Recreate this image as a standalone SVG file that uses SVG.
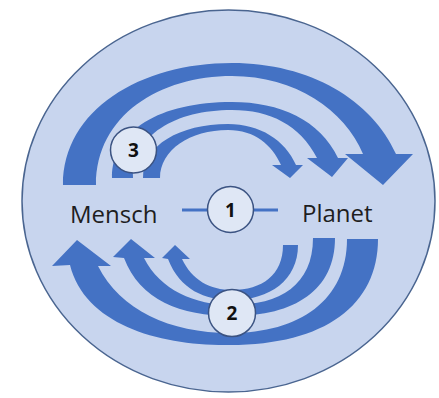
<svg xmlns="http://www.w3.org/2000/svg" width="439" height="398" viewBox="0 0 439 398">
<style>
.bg{fill:#c8d5ee;stroke:#4a6590;stroke-width:1.5}
.arr{fill:#4472c4;stroke:none}
.link{stroke:#4472c4;stroke-width:3;fill:none}
.num{fill:#dfe7f5;stroke:#3b5382;stroke-width:1.5}
.lbl{font-family:"Open Sans","Liberation Sans",sans-serif;font-size:24px;fill:#1e1e1e}
.nt{font-family:"Open Sans","Liberation Sans",sans-serif;font-size:19px;font-weight:bold;fill:#111;text-anchor:middle}
</style>
<rect width="439" height="398" fill="#ffffff"/>
<ellipse id="planet-sphere" class="bg" cx="228.5" cy="201" rx="206.5" ry="191"/>
<g id="connectors">
  <path class="arr" d="M63,185 C63,110 140,63 232,63 C310,63 372,100 396,154 L413,154 L383,185 L345,154 L363,154 C345,110 295,76 232,76 C160,76 96,115 96,185 Z"/>
  <path class="arr" d="M112,178 C112,130 160,102 232,102 C280,102 320,120 338,158 L348,158 L332,177 L307,158 L317,158 C300,125 270,110 232,110 C175,110 133,135 133,178 Z"/>
  <path class="arr" d="M143,178 C143,145 180,124 228,124 C260,124 285,140 296,165 L303,165 L290,178 L272,165 L281,165 C272,145 255,130 228,130 C190,130 160,150 160,178 Z"/>
  <path class="arr" d="M378,239 C378,305 325,345 230,345 C160,346 85,325 70,265 L52,266 L77,240 L111,266 L98,266 C120,310 170,333 230,333 C300,333 347,300 347,239 Z"/>
  <path class="arr" d="M335,238 C335,290 295,316 232,316 C180,316 140,300 124,258 L113,257 L131,239 L155,258 L144,258 C160,290 195,305 232,305 C280,305 313,285 313,238 Z"/>
  <path class="arr" d="M298,245 C298,280 270,300 232,300 C205,300 180,290 168,259 L162,258 L175,245 L190,259 L182,259 C192,280 210,290 232,290 C262,290 283,275 283,245 Z"/>
  <line class="link" x1="182" y1="210" x2="278" y2="210"/>
</g>
<g id="node-mensch"><text class="lbl" x="70" y="223">Mensch</text></g>
<g id="node-planet"><text class="lbl" x="302" y="222">Planet</text></g>
<g id="node-1"><circle class="num" cx="230.5" cy="209.5" r="23"/><text class="nt" x="230.5" y="216.5">1</text></g>
<g id="node-2"><circle class="num" cx="232" cy="313" r="23.5"/><text class="nt" x="232" y="320">2</text></g>
<g id="node-3"><circle class="num" cx="133.5" cy="150" r="23"/><text class="nt" x="133.5" y="157">3</text></g>
</svg>
